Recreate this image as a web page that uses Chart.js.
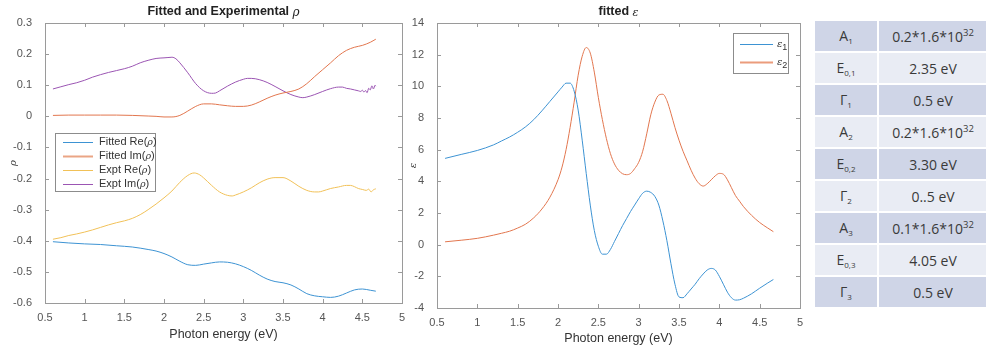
<!DOCTYPE html>
<html>
<head>
<meta charset="utf-8">
<script src="https://cdn.jsdelivr.net/npm/chart.js@4.4.1/dist/chart.umd.min.js"></script>
<style>
  html, body { margin: 0; padding: 0; background: #fff; }
  #wrap { position: relative; width: 986px; height: 351px; overflow: hidden; }
  #rhoChart { position: absolute; left: 0; top: 0; }
  #epsChart { position: absolute; left: 400px; top: 0; }
  #params {
    position: absolute; left: 813px; top: 19px; width: 176px;
    border-collapse: collapse; table-layout: fixed;
    font-family: "Open Sans", "Liberation Sans", sans-serif; font-size: 14px; color: #3a3a3a;
  }
  #params td { height: 30px; padding: 0; text-align: center; border: 2px solid #fff; }
  #params td:first-child { width: 62px; }
  #params tr.dark td { background: #cfd5e7; }
  #params tr.light td { background: #e9ecf4; }
  #params sub { font-size: 8px; vertical-align: -3px; }
  #params sup { font-size: 9.5px; vertical-align: 6px; }
</style>
</head>
<body>
<div id="wrap">
  <canvas id="rhoChart" width="410" height="351"></canvas>
  <canvas id="epsChart" width="405" height="351"></canvas>
  <table id="params"><tbody></tbody></table>
</div>
<script>
// photon energy grid of the fitted reflectance
const energyFit = [0.6, 0.8, 1.0, 1.2, 1.4, 1.6, 1.8, 1.9, 2.0, 2.1, 2.2, 2.3, 2.4, 2.5, 2.6, 2.7, 2.8, 2.9, 3.0,
  3.1, 3.2, 3.3, 3.4, 3.5, 3.6, 3.7, 3.8, 3.9, 4.0, 4.1, 4.2, 4.3, 4.4, 4.5, 4.6, 4.67];
const fitRe = [-0.403, -0.407, -0.41, -0.412, -0.416, -0.42, -0.428, -0.433, -0.441, -0.452, -0.466, -0.477, -0.479,
  -0.475, -0.471, -0.468, -0.469, -0.474, -0.483, -0.495, -0.51, -0.523, -0.531, -0.535, -0.542, -0.555, -0.57,
  -0.577, -0.58, -0.582, -0.578, -0.568, -0.558, -0.555, -0.559, -0.562];
const fitIm = [0.003, 0.004, 0.004, 0.004, 0.004, 0.003, 0.001, 0.0, -0.002, -0.002, 0.003, 0.017, 0.032, 0.04, 0.04,
  0.037, 0.034, 0.032, 0.032, 0.036, 0.046, 0.058, 0.068, 0.075, 0.08, 0.088, 0.105, 0.128, 0.15, 0.172, 0.195,
  0.212, 0.222, 0.228, 0.238, 0.248];

// measured reflectance
const energyExptRe = [0.6, 0.7, 0.8, 0.9, 1.0, 1.1, 1.2, 1.3, 1.4, 1.5, 1.6, 1.7, 1.8, 1.9, 2.0, 2.1, 2.2, 2.3, 2.38,
  2.45, 2.5, 2.6, 2.7, 2.8, 2.86, 2.9, 3.0, 3.1, 3.2, 3.3, 3.4, 3.5, 3.6, 3.7, 3.8, 3.9, 3.95, 4.0, 4.1, 4.2, 4.3,
  4.35, 4.4, 4.45, 4.5, 4.55, 4.58, 4.61, 4.64, 4.67];
const exptRe = [-0.395, -0.39, -0.383, -0.378, -0.372, -0.365, -0.357, -0.349, -0.342, -0.336, -0.328, -0.316, -0.3,
  -0.282, -0.262, -0.24, -0.212, -0.19, -0.182, -0.188, -0.198, -0.222, -0.243, -0.254, -0.256, -0.253, -0.243,
  -0.23, -0.214, -0.202, -0.197, -0.197, -0.208, -0.225, -0.238, -0.243, -0.243, -0.24, -0.232, -0.227, -0.222,
  -0.222, -0.226, -0.232, -0.235, -0.238, -0.234, -0.243, -0.236, -0.233];
const energyExptIm = [0.6, 0.7, 0.8, 0.9, 1.0, 1.1, 1.2, 1.3, 1.4, 1.5, 1.6, 1.7, 1.8, 1.9, 2.0, 2.05, 2.1, 2.15, 2.2,
  2.3, 2.4, 2.5, 2.6, 2.65, 2.7, 2.8, 2.9, 3.0, 3.05, 3.1, 3.2, 3.3, 3.4, 3.5, 3.6, 3.7, 3.75, 3.8, 3.9, 4.0, 4.1,
  4.2, 4.25, 4.3, 4.35, 4.4, 4.45, 4.48, 4.5, 4.52, 4.54, 4.56, 4.58, 4.6, 4.62, 4.64, 4.66, 4.67];
const exptIm = [0.088, 0.095, 0.102, 0.108, 0.116, 0.126, 0.134, 0.141, 0.147, 0.153, 0.161, 0.172, 0.18, 0.186,
  0.188, 0.189, 0.19, 0.185, 0.172, 0.14, 0.105, 0.082, 0.074, 0.075, 0.082, 0.097, 0.11, 0.119, 0.122, 0.122,
  0.118, 0.109, 0.096, 0.082, 0.07, 0.062, 0.06, 0.062, 0.07, 0.08, 0.089, 0.094, 0.094, 0.09, 0.088, 0.085,
  0.082, 0.08, 0.084, 0.078, 0.083, 0.076, 0.09, 0.085, 0.098, 0.088, 0.1, 0.097];

// fitted dielectric function
const energyEps = [0.6, 0.8, 1.0, 1.2, 1.3, 1.4, 1.5, 1.6, 1.7, 1.8, 1.9, 2.0, 2.05, 2.1, 2.15, 2.2, 2.25, 2.3, 2.35,
  2.4, 2.45, 2.5, 2.55, 2.6, 2.65, 2.7, 2.75, 2.8, 2.85, 2.9, 2.95, 3.0, 3.05, 3.1, 3.15, 3.2, 3.25, 3.3, 3.35, 3.4,
  3.45, 3.5, 3.55, 3.6, 3.65, 3.7, 3.75, 3.8, 3.85, 3.9, 3.95, 4.0, 4.05, 4.1, 4.15, 4.2, 4.25, 4.3, 4.4, 4.5, 4.6, 4.67];
const eps1 = [5.45, 5.7, 5.95, 6.3, 6.55, 6.8, 7.1, 7.45, 7.9, 8.45, 9.05, 9.65, 9.95, 10.2, 10.2, 9.7, 8.5, 6.6, 4.5,
  2.5, 0.9, -0.1, -0.6, -0.6, -0.3, 0.2, 0.7, 1.2, 1.65, 2.1, 2.5, 2.9, 3.25, 3.38, 3.3, 3.05, 2.5, 1.5, 0.25, -1.2,
  -2.5, -3.3, -3.35, -3.1, -2.8, -2.5, -2.15, -1.85, -1.6, -1.5, -1.6, -2.0, -2.5, -3.0, -3.35, -3.5, -3.48, -3.38,
  -3.1, -2.75, -2.42, -2.2];
const eps2 = [0.18, 0.28, 0.4, 0.6, 0.72, 0.85, 1.05, 1.3, 1.7, 2.25, 3.0, 4.1, 4.9, 6.0, 7.4, 9.0, 10.7, 11.9, 12.45,
  12.1, 10.9, 9.3, 7.9, 6.7, 5.75, 5.1, 4.7, 4.48, 4.42, 4.5, 4.8, 5.2, 5.9, 7.0, 8.2, 9.0, 9.45, 9.5, 9.1, 8.3, 7.4,
  6.6, 5.9, 5.3, 4.7, 4.2, 3.85, 3.7, 3.85, 4.1, 4.35, 4.5, 4.45, 4.1, 3.6, 3.1, 2.75, 2.4, 1.85, 1.4, 1.05, 0.82];

// axis ticks
const energyTicks = [0.5, 1, 1.5, 2, 2.5, 3, 3.5, 4, 4.5, 5];
const rhoTicks = [-0.6, -0.5, -0.4, -0.3, -0.2, -0.1, 0, 0.1, 0.2, 0.3];
const epsTicks = [-4, -2, 0, 2, 4, 6, 8, 10, 12, 14];

// oscillator parameters shown beside the plots
const paramNames = ['A<sub>1</sub>', 'E<sub>0,1</sub>', 'Γ<sub>1</sub>', 'A<sub>2</sub>', 'E<sub>0,2</sub>',
  'Γ<sub>2</sub>', 'A<sub>3</sub>', 'E<sub>0,3</sub>', 'Γ<sub>3</sub>'];
const paramValues = ['0.2*1.6*10<sup>32</sup>', '2.35 eV', '0.5 eV', '0.2*1.6*10<sup>32</sup>', '3.30 eV',
  '0..5 eV', '0.1*1.6*10<sup>32</sup>', '4.05 eV', '0.5 eV'];

const BLUE = '#3d93d3';
const ORANGE = '#e2764e';
const YELLOW = '#f1c158';
const PURPLE = '#9b55b3';
const SANS = '"Liberation Sans", Arial, sans-serif';
const SERIF = '"DejaVu Serif", serif';

const toPoints = (xs, ys) => xs.map((x, i) => ({ x, y: ys[i] }));

function drawRuns(ctx, runs, x, y, align) {
  let total = 0;
  runs.forEach(r => { ctx.font = r.font; r.w = ctx.measureText(r.text).width; total += r.w; });
  let cx = align === 'center' ? x - total / 2 : x;
  ctx.textAlign = 'left';
  ctx.textBaseline = 'middle';
  runs.forEach(r => { ctx.font = r.font; ctx.fillText(r.text, cx, y + (r.dy || 0)); cx += r.w; });
}

// MATLAB-style box, inward ticks, title and legend
const matlabAxes = {
  id: 'matlabAxes',
  afterDatasetsDraw(chart, args, opts) {
    const { ctx, chartArea: a, scales: { x, y } } = chart;
    ctx.save();
    ctx.strokeStyle = '#9a9a9a';
    ctx.lineWidth = 1;
    ctx.strokeRect(a.left + 0.5, a.top + 0.5, a.right - a.left, a.bottom - a.top);
    ctx.beginPath();
    x.ticks.forEach(t => {
      const px = Math.round(x.getPixelForValue(t.value)) + 0.5;
      ctx.moveTo(px, a.bottom); ctx.lineTo(px, a.bottom - 4);
      ctx.moveTo(px, a.top); ctx.lineTo(px, a.top + 4);
    });
    y.ticks.forEach(t => {
      const py = Math.round(y.getPixelForValue(t.value)) + 0.5;
      ctx.moveTo(a.left, py); ctx.lineTo(a.left + 4, py);
      ctx.moveTo(a.right, py); ctx.lineTo(a.right - 4, py);
    });
    ctx.stroke();

    ctx.fillStyle = '#222';
    drawRuns(ctx, opts.title, (a.left + a.right) / 2, 12, 'center');

    const lg = opts.legend;
    ctx.fillStyle = '#fff';
    ctx.fillRect(lg.x, lg.y, lg.w, lg.h);
    ctx.strokeStyle = '#8c8c8c';
    ctx.strokeRect(lg.x + 0.5, lg.y + 0.5, lg.w, lg.h);
    lg.items.forEach((item, i) => {
      const iy = lg.y + lg.first + i * lg.step;
      ctx.strokeStyle = item.color;
      ctx.lineWidth = item.width || 1;
      ctx.beginPath();
      ctx.moveTo(lg.x + lg.lineFrom, iy + 0.5);
      ctx.lineTo(lg.x + lg.lineTo, iy + 0.5);
      ctx.stroke();
      ctx.fillStyle = '#333';
      drawRuns(ctx, item.label, lg.x + lg.textAt, iy, 'left');
    });
    ctx.restore();
  }
};

function rhoLabel(prefix) {
  return [
    { text: prefix + '(', font: '11px ' + SANS },
    { text: 'ρ', font: 'italic 9.5px ' + SERIF, dy: 1 },
    { text: ')', font: '11px ' + SANS }
  ];
}

function epsLabel(n) {
  return [
    { text: 'ε', font: 'italic 10px ' + SERIF },
    { text: n, font: '9px ' + SANS, dy: 4 }
  ];
}

function lineSet(label, points, color) {
  return {
    label, data: points, borderColor: color, backgroundColor: color,
    borderWidth: 1, pointRadius: 0, cubicInterpolationMode: 'monotone', fill: false
  };
}

function makeScales(yTicks, yMin, yMax, yWidth, xHeight, titlePad, yTitle) {
  const tickFont = { family: SANS, size: 11 };
  return {
    x: {
      type: 'linear', min: 0.5, max: 5,
      grid: { display: false }, border: { display: false },
      afterBuildTicks: s => { s.ticks = energyTicks.map(v => ({ value: v })); },
      afterFit: s => { s.height = xHeight; },
      ticks: { color: '#555', font: tickFont, padding: 0, maxRotation: 0, callback: v => String(v) },
      title: { display: true, text: 'Photon energy (eV)', color: '#333',
        font: { family: SANS, size: 12.5 }, padding: { top: 0, bottom: titlePad } }
    },
    y: {
      min: yMin, max: yMax,
      grid: { display: false }, border: { display: false },
      afterBuildTicks: s => { s.ticks = yTicks.map(v => ({ value: v })); },
      afterFit: s => { s.width = yWidth; },
      ticks: { color: '#555', font: tickFont, padding: 5, callback: v => String(Number(v.toFixed(2))) },
      title: { display: true, text: yTitle, color: '#333',
        font: { family: 'DejaVu Serif', size: 10, style: 'italic' }, padding: { top: 7, bottom: 0 } }
    }
  };
}

const common = {
  responsive: false,
  animation: false,
  devicePixelRatio: 1,
  events: []
};

new Chart(document.getElementById('rhoChart'), {
  type: 'line',
  data: {
    datasets: [
      lineSet('Fitted Re(ρ)', toPoints(energyFit, fitRe), BLUE),
      lineSet('Fitted Im(ρ)', toPoints(energyFit, fitIm), ORANGE),
      lineSet('Expt Re(ρ)', toPoints(energyExptRe, exptRe), YELLOW),
      lineSet('Expt Im(ρ)', toPoints(energyExptIm, exptIm), PURPLE)
    ]
  },
  options: {
    ...common,
    layout: { padding: { top: 23, right: 8, bottom: 0, left: 0 } },
    scales: makeScales(rhoTicks, -0.6, 0.3, 45, 48, 9, 'ρ'),
    plugins: {
      legend: { display: false },
      tooltip: { enabled: false },
      matlabAxes: {
        title: [
          { text: 'Fitted and Experimental ', font: 'bold 12.5px ' + SANS },
          { text: 'ρ', font: 'italic 12px ' + SERIF, dy: 1 }
        ],
        legend: {
          x: 55, y: 133, w: 100, h: 58, first: 9, step: 14, lineFrom: 8, lineTo: 38, textAt: 44,
          items: [
            { label: rhoLabel('Fitted Re'), color: BLUE },
            { label: rhoLabel('Fitted Im'), color: '#eaa585', width: 2 },
            { label: rhoLabel('Expt Re'), color: YELLOW },
            { label: rhoLabel('Expt Im'), color: PURPLE }
          ]
        }
      }
    }
  },
  plugins: [matlabAxes]
});

new Chart(document.getElementById('epsChart'), {
  type: 'line',
  data: {
    datasets: [
      lineSet('ε1', toPoints(energyEps, eps1), BLUE),
      lineSet('ε2', toPoints(energyEps, eps2), ORANGE)
    ]
  },
  options: {
    ...common,
    layout: { padding: { top: 23, right: 5, bottom: 0, left: 0 } },
    scales: makeScales(epsTicks, -4, 14, 37, 43, 5, 'ε'),
    plugins: {
      legend: { display: false },
      tooltip: { enabled: false },
      matlabAxes: {
        title: [
          { text: 'fitted ', font: 'bold 12.5px ' + SANS },
          { text: 'ε', font: 'italic 11px ' + SERIF, dy: 1 }
        ],
        legend: {
          x: 333, y: 33, w: 55, h: 40, first: 11, step: 18, lineFrom: 7, lineTo: 40, textAt: 44,
          items: [
            { label: epsLabel('1'), color: BLUE },
            { label: epsLabel('2'), color: '#eb9c7c', width: 2 }
          ]
        }
      }
    }
  },
  plugins: [matlabAxes]
});

const tbody = document.querySelector('#params tbody');
paramNames.forEach((name, i) => {
  const tr = document.createElement('tr');
  tr.className = i % 2 === 0 ? 'dark' : 'light';
  tr.innerHTML = '<td>' + name + '</td><td>' + paramValues[i] + '</td>';
  tbody.appendChild(tr);
});
</script>
</body>
</html>
